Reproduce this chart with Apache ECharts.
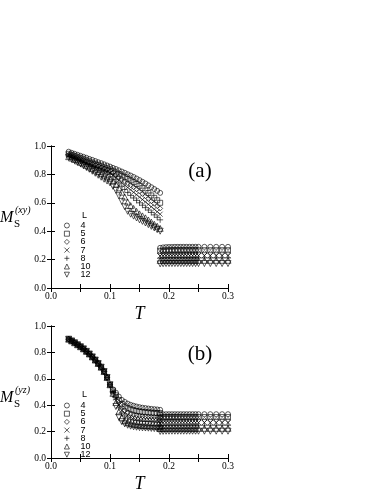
<!DOCTYPE html>
<html>
<head>
<meta charset="utf-8">
<script src="https://cdn.jsdelivr.net/npm/echarts/dist/echarts.min.js"></script>
<style>
  html, body { margin: 0; padding: 0; background: #fff; }
  #chart { width: 382px; height: 494px; }
</style>
</head>
<body>
<div id="chart"></div>
<script>
// temperatures, low-T branch and high-T branch
var tLow = [0.030,0.035,0.040,0.045,0.050,0.055,0.060,0.065,0.070,0.075,0.080,0.085,0.090,0.095,0.100,0.105,
  0.110,0.115,0.120,0.125,0.130,0.135,0.140,0.145,0.150,0.155,0.160,0.165,0.170,0.175,0.180,0.185];
var tHigh = [0.185,0.190,0.195,0.200,0.205,0.210,0.215,0.220,0.225,0.230,0.235,0.240,0.245,0.250,
  0.260,0.270,0.280,0.290,0.300];

var sizes = ['4', '5', '6', '7', '8', '10', '12'];
var xTicks = [0, 0.3, 0.05];
var yTicks = [0, 1, 0.2];

// (a) M_S^(xy)
var aLow4 = [0.960,0.952,0.945,0.938,0.931,0.924,0.917,0.909,0.902,0.894,0.886,0.879,0.871,0.863,0.855,0.846,
  0.838,0.829,0.820,0.811,0.801,0.792,0.782,0.771,0.760,0.748,0.736,0.723,0.710,0.697,0.684,0.670];
var aLow5 = [0.945,0.937,0.929,0.921,0.914,0.906,0.898,0.890,0.882,0.874,0.866,0.858,0.850,0.843,0.835,0.825,
  0.814,0.803,0.792,0.781,0.769,0.757,0.745,0.732,0.720,0.703,0.686,0.669,0.652,0.635,0.618,0.600];
var aLow6 = [0.940,0.932,0.924,0.916,0.908,0.900,0.892,0.883,0.875,0.867,0.858,0.850,0.842,0.833,0.825,0.811,
  0.797,0.782,0.768,0.753,0.739,0.724,0.710,0.695,0.680,0.663,0.646,0.628,0.611,0.594,0.577,0.560];
var aLow7 = [0.935,0.926,0.918,0.909,0.900,0.891,0.882,0.873,0.864,0.855,0.846,0.837,0.828,0.819,0.810,0.793,
  0.776,0.759,0.742,0.725,0.708,0.691,0.674,0.657,0.640,0.623,0.606,0.589,0.572,0.555,0.537,0.520];
var aLow8 = [0.930,0.921,0.912,0.903,0.894,0.885,0.876,0.867,0.857,0.848,0.839,0.829,0.820,0.810,0.800,0.782,
  0.762,0.740,0.717,0.694,0.672,0.652,0.634,0.617,0.600,0.583,0.566,0.549,0.532,0.515,0.498,0.480];
var aLow10 = [0.925,0.915,0.905,0.895,0.885,0.875,0.864,0.853,0.842,0.831,0.820,0.808,0.796,0.783,0.770,0.752,
  0.731,0.705,0.675,0.641,0.605,0.580,0.560,0.540,0.522,0.508,0.494,0.479,0.464,0.449,0.435,0.420];
var aLow12 = [0.920,0.909,0.898,0.886,0.874,0.862,0.849,0.836,0.822,0.808,0.794,0.780,0.766,0.753,0.740,0.716,
  0.688,0.650,0.610,0.572,0.540,0.520,0.506,0.493,0.480,0.469,0.458,0.446,0.434,0.423,0.411,0.400];

var aHigh4 = [0.283,0.286,0.288,0.289,0.289,0.290,0.290,0.290,0.290,0.290,0.290,0.290,0.290,0.290,0.290,0.290,0.290,0.290,0.290];
var aHigh5 = [0.262,0.264,0.265,0.265,0.266,0.266,0.266,0.266,0.266,0.266,0.266,0.266,0.266,0.266,0.266,0.266,0.266,0.266,0.266];
var aHigh6 = [0.243,0.244,0.245,0.245,0.245,0.246,0.246,0.246,0.246,0.246,0.246,0.246,0.246,0.246,0.246,0.246,0.246,0.246,0.246];
var aHigh7 = [0.226,0.227,0.228,0.228,0.228,0.228,0.228,0.228,0.228,0.228,0.228,0.228,0.228,0.228,0.228,0.228,0.228,0.228,0.228];
var aHigh8 = [0.210,0.211,0.212,0.212,0.212,0.212,0.212,0.212,0.212,0.212,0.212,0.212,0.212,0.212,0.212,0.212,0.212,0.212,0.212];
var aHigh10 = [0.194,0.195,0.195,0.195,0.195,0.195,0.195,0.195,0.195,0.195,0.195,0.195,0.195,0.195,0.195,0.195,0.195,0.195,0.195];
var aHigh12 = [0.170,0.171,0.172,0.172,0.172,0.172,0.172,0.172,0.172,0.172,0.172,0.172,0.172,0.172,0.172,0.172,0.172,0.172,0.172];

// (b) M_S^(yz): curves collapse below T=0.1
var bLowShared = [0.900,0.887,0.873,0.858,0.843,0.827,0.808,0.788,0.766,0.742,0.716,0.688,0.655,0.610,0.555];
var bTail4 = [0.520,0.495,0.465,0.440,0.425,0.412,0.403,0.396,0.390,0.385,0.381,0.378,0.375,0.372,0.370,0.368,0.365];
var bTail5 = [0.512,0.475,0.440,0.410,0.390,0.377,0.368,0.361,0.356,0.352,0.349,0.347,0.345,0.343,0.342,0.341,0.340];
var bTail6 = [0.508,0.465,0.420,0.385,0.362,0.347,0.337,0.330,0.325,0.321,0.318,0.316,0.314,0.313,0.312,0.311,0.310];
var bTail7 = [0.505,0.455,0.400,0.360,0.338,0.323,0.313,0.306,0.301,0.298,0.296,0.294,0.293,0.292,0.291,0.290,0.290];
var bTail8 = [0.500,0.445,0.380,0.340,0.318,0.303,0.293,0.287,0.283,0.280,0.278,0.276,0.275,0.274,0.272,0.271,0.270];
var bTail10 = [0.490,0.420,0.350,0.305,0.283,0.270,0.262,0.256,0.252,0.249,0.247,0.245,0.244,0.243,0.242,0.241,0.240];
var bTail12 = [0.480,0.390,0.310,0.275,0.258,0.248,0.241,0.236,0.233,0.230,0.228,0.227,0.226,0.224,0.223,0.221,0.220];

var bHigh4 = [0.330,0.331,0.332,0.332,0.332,0.332,0.332,0.332,0.332,0.332,0.332,0.332,0.332,0.332,0.332,0.332,0.332,0.332,0.332];
var bHigh5 = [0.308,0.309,0.310,0.310,0.310,0.310,0.310,0.310,0.310,0.310,0.310,0.310,0.310,0.310,0.310,0.310,0.310,0.310,0.310];
var bHigh6 = [0.286,0.287,0.288,0.288,0.288,0.288,0.288,0.288,0.288,0.288,0.288,0.288,0.288,0.288,0.288,0.288,0.288,0.288,0.288];
var bHigh7 = [0.266,0.267,0.268,0.268,0.268,0.268,0.268,0.268,0.268,0.268,0.268,0.268,0.268,0.268,0.268,0.268,0.268,0.268,0.268];
var bHigh8 = [0.246,0.247,0.248,0.248,0.248,0.248,0.248,0.248,0.248,0.248,0.248,0.248,0.248,0.248,0.248,0.248,0.248,0.248,0.248];
var bHigh10 = [0.223,0.224,0.225,0.225,0.225,0.225,0.225,0.225,0.225,0.225,0.225,0.225,0.225,0.225,0.225,0.225,0.225,0.225,0.225];
var bHigh12 = [0.201,0.202,0.203,0.203,0.203,0.203,0.203,0.203,0.203,0.203,0.203,0.203,0.203,0.203,0.203,0.203,0.203,0.203,0.203];

var aLow = [aLow4, aLow5, aLow6, aLow7, aLow8, aLow10, aLow12];
var aHigh = [aHigh4, aHigh5, aHigh6, aHigh7, aHigh8, aHigh10, aHigh12];
var bTails = [bTail4, bTail5, bTail6, bTail7, bTail8, bTail10, bTail12];
var bHigh = [bHigh4, bHigh5, bHigh6, bHigh7, bHigh8, bHigh10, bHigh12];

var symbols = [
  'circle',
  'rect',
  'diamond',
  'path://M0,0L10,10M10,0L0,10',
  'path://M5,0L5,10M0,5L10,5',
  'triangle',
  'path://M0,0L10,0L5,10Z'
];
var symbolSizes = [5, 5, 5, 5, 6, 6, 6];

var serif = '"Liberation Serif", "Times New Roman", serif';
var sans = '"Liberation Sans", Arial, sans-serif';

function zip(xs, ys) {
  return xs.map(function (x, i) { return [x, ys[i]]; });
}

var series = [];
function addPanel(axisIndex, lows, highs) {
  for (var i = 0; i < sizes.length; i++) {
    series.push({
      type: 'scatter',
      name: sizes[i],
      xAxisIndex: axisIndex,
      yAxisIndex: axisIndex,
      symbol: symbols[i],
      symbolSize: symbolSizes[i],
      silent: true,
      itemStyle: { color: 'rgba(0,0,0,0)', borderColor: '#000', borderWidth: 0.8 },
      data: zip(tLow, lows[i]).concat(zip(tHigh, highs[i]))
    });
  }
}
addPanel(0, aLow, aHigh);
addPanel(2, bTails.map(function (tail) { return bLowShared.concat(tail); }), bHigh);

function xAxes(grid) {
  var base = {
    type: 'value', gridIndex: grid, min: xTicks[0], max: xTicks[1], interval: xTicks[2],
    axisLine: { lineStyle: { color: '#000', width: 1 } },
    axisTick: { inside: true, length: 4, lineStyle: { color: '#000' } },
    splitLine: { show: false }
  };
  return [
    Object.assign({}, base, {
      position: 'bottom',
      name: 'T', nameLocation: 'middle', nameGap: 17,
      nameTextStyle: { fontFamily: serif, fontStyle: 'italic', fontSize: 18, color: '#000' },
      axisLabel: {
        margin: 3, fontFamily: serif, fontSize: 9.5, color: '#000',
        formatter: function (v) {
          return Math.round(v * 100) % 10 === 0 ? v.toFixed(1) : '';
        }
      }
    }),
    Object.assign({}, base, { position: 'top', axisLabel: { show: false } })
  ];
}
function yAxes(grid) {
  var base = {
    type: 'value', gridIndex: grid, min: yTicks[0], max: yTicks[1], interval: yTicks[2],
    axisLine: { lineStyle: { color: '#000', width: 1 } },
    axisTick: { inside: true, length: 4, lineStyle: { color: '#000' } },
    splitLine: { show: false }
  };
  return [
    Object.assign({}, base, {
      position: 'left',
      axisLabel: {
        margin: 5, fontFamily: serif, fontSize: 9.5, color: '#000',
        formatter: function (v) { return v.toFixed(1); }
      }
    }),
    Object.assign({}, base, { position: 'right', axisLabel: { show: false } })
  ];
}

function legendAt(top) {
  return {
    orient: 'vertical', left: 64, top: top, padding: 0,
    itemWidth: 5, itemHeight: 5, itemGap: -0.8,
    selectedMode: false,
    data: sizes,
    itemStyle: { color: 'rgba(0,0,0,0)', borderColor: '#000', borderWidth: 0.8 },
    textStyle: { fontFamily: sans, fontSize: 9, color: '#000', lineHeight: 8, height: 8, padding: [0, 0, 0, 6] }
  };
}

function yName(cy, sup) {
  return [
    { type: 'text', x: 0, y: cy, style: { text: 'M', font: 'italic 16px ' + serif, fill: '#000', verticalAlign: 'middle' } },
    { type: 'text', x: 14, y: cy + 7, style: { text: 'S', font: '11px ' + serif, fill: '#000', verticalAlign: 'middle' } },
    { type: 'text', x: 15, y: cy - 7, style: { text: sup, font: 'italic 10px ' + serif, fill: '#000', verticalAlign: 'middle' } }
  ];
}

var chart = echarts.init(document.getElementById('chart'), null, { renderer: 'canvas' });
chart.setOption({
  animation: false,
  backgroundColor: '#fff',
  grid: [
    { left: 51, top: 146, width: 177, height: 142 },
    { left: 51, top: 326, width: 177, height: 143 }
  ],
  xAxis: xAxes(0).concat(xAxes(1)),
  yAxis: yAxes(0).concat(yAxes(1)),
  legend: [legendAt(221), legendAt(401)],
  graphic: yName(217.5, '(xy)').concat(yName(397.5, '(yz)')).concat([
    { type: 'text', x: 82, y: 215.5, style: { text: 'L', font: '9px ' + sans, fill: '#000', verticalAlign: 'middle' } },
    { type: 'text', x: 82, y: 395, style: { text: 'L', font: '9px ' + sans, fill: '#000', verticalAlign: 'middle' } },
    { type: 'text', x: 200, y: 171, style: { text: '(a)', font: '21px ' + serif, fill: '#000', align: 'center', verticalAlign: 'middle' } },
    { type: 'text', x: 200, y: 354, style: { text: '(b)', font: '21px ' + serif, fill: '#000', align: 'center', verticalAlign: 'middle' } }
  ]),
  series: series
});
</script>
</body>
</html>
